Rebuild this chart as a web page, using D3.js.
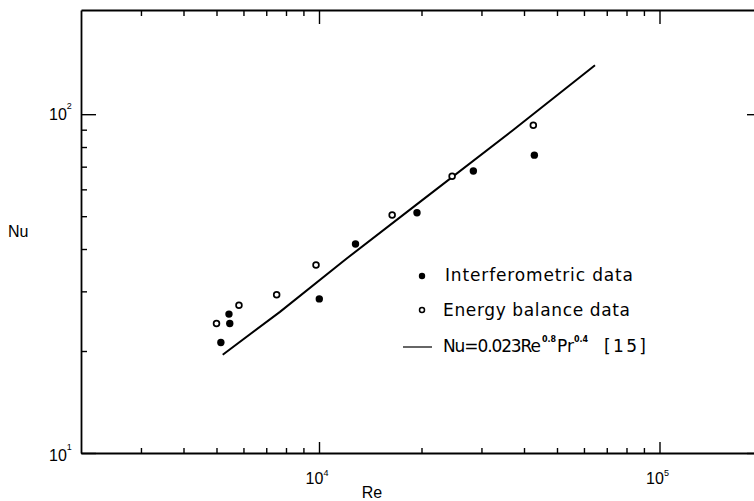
<!DOCTYPE html>
<html><head><meta charset="utf-8">
<script src="https://cdn.jsdelivr.net/npm/d3@7"></script>
<style>body{margin:0;background:#fff}svg{display:block}</style>
</head><body><svg id="c" width="754" height="501"></svg>
<script>
// ---- data ----
const interfRe = [5150, 5440, 5470, 10020, 12800, 19400, 28400, 42900];
const interfNu = [21.2, 25.7, 24.1, 28.5, 41.4, 51.2, 68.0, 75.7];
const energyRe = [5000, 5820, 7510, 9800, 16400, 24600, 42600];
const energyNu = [24.1, 27.3, 29.3, 35.9, 50.4, 65.6, 92.8];
const corrRe = [5215, 7680, 12060, 19800, 37100, 64650];
const corrNu = [19.5, 26.1, 37.5, 55.1, 89.7, 139.5];
const xMajor = [1e4, 1e5];
const xMajorExp = ["4", "5"];
const xMinor = [3000, 4000, 5000, 6000, 7000, 8000, 9000, 20000, 30000, 40000, 50000, 60000, 70000, 80000, 90000];
const yMajor = [10, 100];
const yMajorExp = ["1", "2"];
const yMinor = [20, 30, 40, 50, 60, 70, 80, 90];
const legendLabels = ["Interferometric data", "Energy balance data"];
const xTitle = "Re", yTitle = "Nu";

const svg = d3.select("#c");
const x = d3.scaleLog().domain([2000, 200000]).range([81, 762]);
const y = d3.scaleLog().domain([10, 203]).range([453, 10]);
const FT = "'Liberation Sans', Arial, sans-serif";
const FL = "'DejaVu Sans', sans-serif";

function styleAxis(g, keepDomain) {
  g.selectAll("path.domain").attr("stroke", "#000").attr("stroke-width", 1.8);
  if (!keepDomain) g.select("path.domain").remove();
  g.selectAll(".tick line").attr("stroke", "#000").attr("stroke-width", 1.4);
  g.selectAll(".tick text").remove();
}
// bottom
svg.append("g").attr("transform", "translate(0,453)")
  .call(d3.axisBottom(x).tickValues(xMajor).tickSizeInner(-11).tickSizeOuter(0).tickFormat(""))
  .call(g => styleAxis(g, true));
svg.append("g").attr("transform", "translate(0,453)")
  .call(d3.axisBottom(x).tickValues(xMinor).tickSizeInner(-5).tickSizeOuter(0).tickFormat(""))
  .call(g => styleAxis(g, false));
// top
svg.append("g").attr("transform", "translate(0,10)")
  .call(d3.axisTop(x).tickValues(xMajor).tickSizeInner(-14).tickSizeOuter(0).tickFormat(""))
  .call(g => styleAxis(g, true));
svg.append("g").attr("transform", "translate(0,10)")
  .call(d3.axisTop(x).tickValues(xMinor).tickSizeInner(-6).tickSizeOuter(0).tickFormat(""))
  .call(g => styleAxis(g, false));
// left
svg.append("g").attr("transform", "translate(81,0)")
  .call(d3.axisLeft(y).tickValues(yMajor).tickSizeInner(-15).tickSizeOuter(0).tickFormat(""))
  .call(g => styleAxis(g, true));
svg.append("g").attr("transform", "translate(81,0)")
  .call(d3.axisLeft(y).tickValues(yMinor).tickSizeInner(-6).tickSizeOuter(0).tickFormat(""))
  .call(g => styleAxis(g, false));
// right (frame edge lies just outside the picture)
svg.append("g").attr("transform", "translate(762,0)")
  .call(d3.axisRight(y).tickValues(yMajor).tickSizeInner(-15).tickSizeOuter(0).tickFormat(""))
  .call(g => styleAxis(g, true));
svg.append("g").attr("transform", "translate(762,0)")
  .call(d3.axisRight(y).tickValues(yMinor).tickSizeInner(-6).tickSizeOuter(0).tickFormat(""))
  .call(g => styleAxis(g, false));

// tick labels
xMajor.forEach((v, i) => {
  const t = svg.append("text").attr("x", x(v) - 2).attr("y", 484)
    .attr("text-anchor", "middle").attr("font-family", FT).attr("font-size", 16).attr("fill", "#000");
  t.append("tspan").text("10");
  t.append("tspan").attr("dy", -8).attr("font-size", 9).text(xMajorExp[i]);
});
yMajor.forEach((v, i) => {
  const t = svg.append("text").attr("x", 49).attr("y", y(v) + 6 + (v === 10 ? 2 : 0))
    .attr("font-family", FT).attr("font-size", 16).attr("fill", "#000");
  t.append("tspan").text("10");
  t.append("tspan").attr("dy", -11).attr("font-size", 9).text(yMajorExp[i]);
});
svg.append("text").attr("x", 372).attr("y", 498).attr("text-anchor", "middle")
  .attr("font-family", FT).attr("font-size", 16).text(xTitle);
svg.append("text").attr("x", 8).attr("y", 237)
  .attr("font-family", FT).attr("font-size", 16).text(yTitle);

// correlation line
svg.append("path")
  .datum(corrRe.map((r, i) => [r, corrNu[i]]))
  .attr("d", d3.line().x(d => x(d[0])).y(d => y(d[1])))
  .attr("fill", "none").attr("stroke", "#000").attr("stroke-width", 2);

// energy balance (open)
svg.append("g").selectAll("circle")
  .data(energyRe.map((r, i) => [r, energyNu[i]])).join("circle")
  .attr("cx", d => x(d[0])).attr("cy", d => y(d[1])).attr("r", 2.9)
  .attr("fill", "#fff").attr("stroke", "#000").attr("stroke-width", 1.7);
// interferometric (filled)
svg.append("g").selectAll("circle")
  .data(interfRe.map((r, i) => [r, interfNu[i]])).join("circle")
  .attr("cx", d => x(d[0])).attr("cy", d => y(d[1])).attr("r", 3.7)
  .attr("fill", "#000");

// legend
const lg = svg.append("g");
lg.append("circle").attr("cx", 422).attr("cy", 276).attr("r", 3.2).attr("fill", "#000");
lg.append("circle").attr("cx", 422).attr("cy", 310).attr("r", 2.5).attr("fill", "#fff")
  .attr("stroke", "#000").attr("stroke-width", 1.5);
lg.append("line").attr("x1", 403).attr("x2", 432).attr("y1", 347).attr("y2", 347)
  .attr("stroke", "#000").attr("stroke-width", 1.2);
lg.append("text").attr("x", 445).attr("y", 281).attr("font-family", FL).attr("font-size", 17)
  .attr("textLength", 188).attr("lengthAdjust", "spacing").text(legendLabels[0]);
lg.append("text").attr("x", 443).attr("y", 316).attr("font-family", FL).attr("font-size", 17)
  .attr("textLength", 187).attr("lengthAdjust", "spacing").text(legendLabels[1]);
const f = lg.append("g").attr("font-family", FL);
f.append("text").attr("x", 443).attr("y", 352).attr("font-size", 17)
  .attr("textLength", 98).attr("lengthAdjust", "spacing").text("Nu=0.023Re");
f.append("text").attr("x", 542).attr("y", 342).attr("font-size", 8).attr("font-weight", "bold").text("0.8");
f.append("text").attr("x", 557).attr("y", 352).attr("font-size", 17).text("Pr");
f.append("text").attr("x", 574).attr("y", 342).attr("font-size", 8).attr("font-weight", "bold").text("0.4");
f.append("text").attr("x", 604).attr("y", 352).attr("font-size", 17)
  .attr("textLength", 42).attr("lengthAdjust", "spacing").text("[15]");
</script></body></html>
